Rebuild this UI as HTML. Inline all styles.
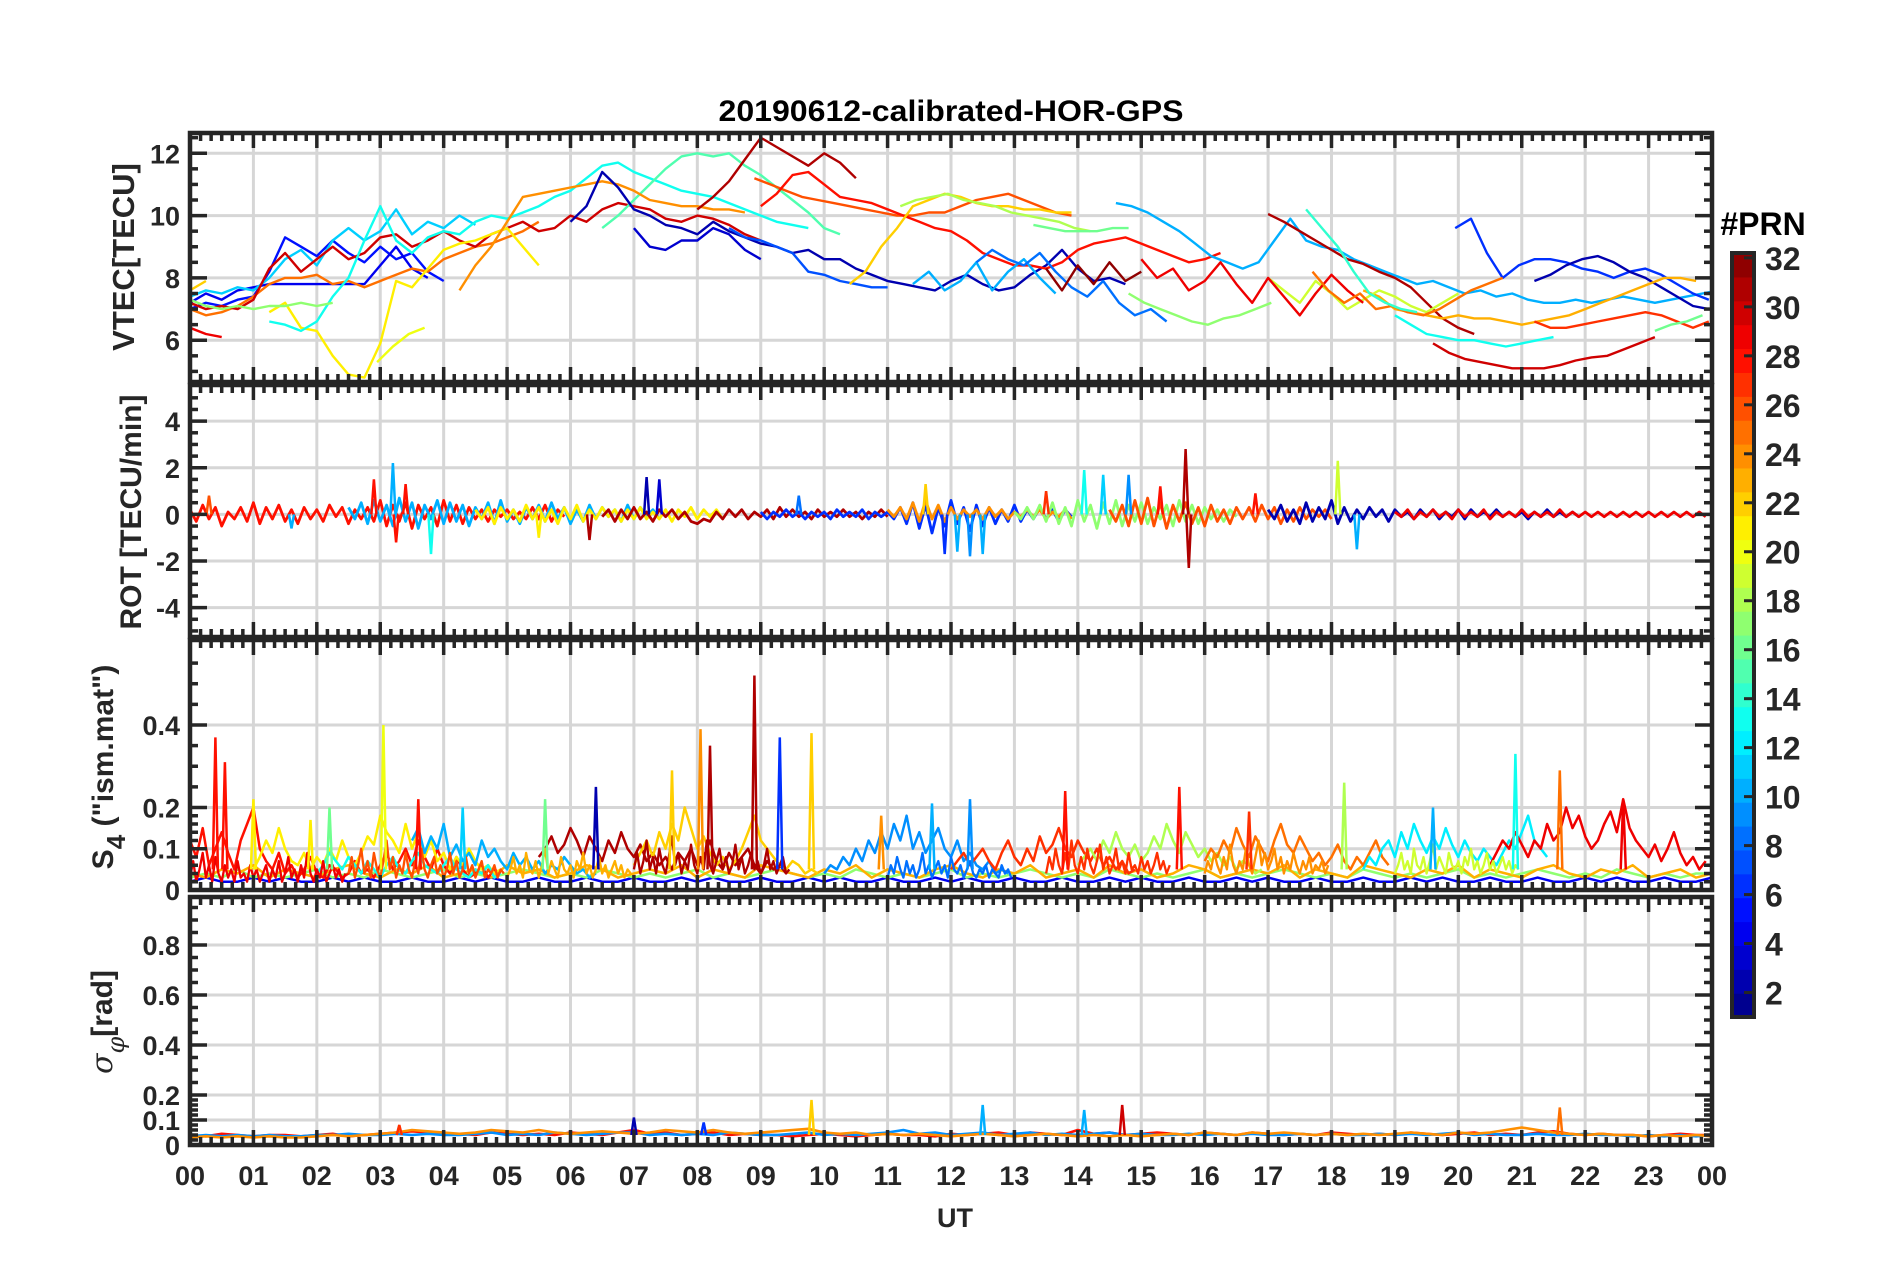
<!DOCTYPE html>
<html><head><meta charset="utf-8">
<style>
html,body{margin:0;padding:0;background:#fff;}
svg{display:block;font-family:"Liberation Sans",Arial,sans-serif;}
.tk{font-size:27px;font-weight:bold;fill:#262626;}
</style></head>
<body>
<svg id="fig" width="1902" height="1272" viewBox="0 0 1902 1272" xmlns="http://www.w3.org/2000/svg">
<rect x="0" y="0" width="1902" height="1272" fill="#fff"/>
<text x="951" y="121" text-anchor="middle" font-size="30" font-weight="bold" fill="#000" textLength="465" lengthAdjust="spacingAndGlyphs">20190612-calibrated-HOR-GPS</text>
<g id="panels"></g>
<text transform="translate(134,257) rotate(-90)" text-anchor="middle" font-size="31" font-weight="bold" fill="#262626">VTEC[TECU]</text>
<text transform="translate(141,512) rotate(-90)" text-anchor="middle" font-size="30" font-weight="bold" fill="#262626">ROT [TECU/min]</text>
<text transform="translate(113,767) rotate(-90)" text-anchor="middle" font-size="30" font-weight="bold" fill="#262626">S<tspan font-size="26" dy="12">4</tspan><tspan dy="-12"> ("ism.mat")</tspan></text>
<text transform="translate(112,1022) rotate(-90)" text-anchor="middle" font-size="30" font-weight="bold" fill="#262626"><tspan font-style="italic" font-weight="normal" font-family="'DejaVu Serif',serif">σ</tspan><tspan font-size="24" dy="12" font-style="italic" font-weight="normal" font-family="'DejaVu Serif',serif">φ</tspan><tspan dy="-12">[rad]</tspan></text>
<text x="955" y="1227" text-anchor="middle" font-size="27" font-weight="bold" fill="#262626">UT</text>
<g id="xlabels"></g>
<g id="colorbar"></g>
<text x="1763" y="235" text-anchor="middle" font-size="32" font-weight="bold" fill="#000">#PRN</text>
</svg>
<script>
// ---------- DATA ----------
const hourLabels = ["00","01","02","03","04","05","06","07","08","09","10","11","12","13","14","15","16","17","18","19","20","21","22","23","00"];
const vtecTicks = [6,8,10,12];
const rotTicks = [-4,-2,0,2,4];
const s4Ticks = [0,0.1,0.2,0.4];
const sigTicks = [0,0.1,0.2,0.4,0.6,0.8];
const prnTicks = [2,4,6,8,10,12,14,16,18,20,22,24,26,28,30,32];

// VTEC tracks: PRN, start hour, step 0.25 h, values (TECU)
const vtecPrn = [5,4,11,25,29,30,21,20,13,15,24,22,17,2,7,3,26,28,31,22,18,16,10,8,10,31,30,6,2,23,27,16,13,19,29,25,14,17,32];
const vtecStart = [0,0,0,0,0,0,1.25,2.95,1.25,6.5,4.25,0,0,6.0,8.5,7.0,8.9,9.0,8.0,10.4,11.2,13.3,11.4,12.4,14.6,17.0,19.6,19.95,21.2,18.5,21.2,23.1,19.0,17.0,15.0,17.7,17.6,14.8,13.5];
const vtecValues = [
 [7.0,7.2,7.1,7.3,7.4,8.2,9.3,9.0,8.7,9.2,8.8,8.5,9.0,8.6,8.8,8.2,7.9],
 [7.2,7.5,7.3,7.6,7.7,7.8,7.8,7.8,7.8,7.8,7.8,7.8,8.4,9.0,8.3,8.0],
 [7.4,7.6,7.5,7.7,7.6,8.0,8.6,8.9,8.4,9.2,9.6,9.2,9.5,10.2,9.4,9.8,9.6,10.0,9.7],
 [7.0,6.8,6.9,7.1,7.4,7.8,8.0,8.0,8.1,7.8,7.9,7.7,7.9,8.1,8.3,8.2,8.6,8.8,9.0,9.1,9.3,9.5,9.8],
 [6.4,6.2,6.1],
 [7.2,7.0,7.1,7.0,7.3,8.3,8.8,8.2,8.6,9.0,8.6,8.8,9.3,9.4,9.0,9.2,9.5,9.2,9.0,9.4,9.6,9.8,9.5,9.6,10.0,9.8,10.2,10.4,10.3,10.2,9.9,9.8,10.0,9.9,9.7,9.4,9.2],
 [6.9,7.2,6.4,6.3,5.5,4.9,4.8,5.9,7.9,7.7,8.3,8.9,9.1,9.2,9.4,9.6,9.0,8.4],
 [5.3,5.8,6.2,6.4],
 [6.6,6.5,6.3,6.6,7.4,8.0,9.2,10.3,9.2,8.8,9.3,9.5,9.4,9.8,10.0,9.9,10.1,10.3,10.6,10.8,11.2,11.6,11.7,11.4,11.2,11.0,10.8,10.7,10.6,10.4,10.2,10.0,9.8,9.7,9.6],
 [9.6,10.0,10.5,11.0,11.5,11.9,12.0,11.9,12.0,11.6,11.3,10.9,10.5,10.1,9.6,9.4],
 [7.6,8.4,9.0,9.8,10.6,10.7,10.8,10.9,11.0,11.1,11.0,10.8,10.5,10.4,10.3,10.3,10.2,10.2,10.1],
 [7.6,7.9],
 [7.3,7.1,7.0,7.1,7.0,7.1,7.1,7.2,7.1,7.2],
 [9.8,10.3,11.4,10.9,10.2,10.0,9.7,9.6,9.4,9.8,9.5,9.3,9.1,9.0,8.8,8.9,8.6,8.6,8.3,8.1,7.9,7.8,7.7,7.6,7.9,8.1,7.8,7.6,7.7,8.1,8.4,8.9,8.3,7.9,8.0,7.8],
 [9.6,9.3,9.2,9.0,8.8,8.2,8.1,7.9,7.8,7.7,7.7],
 [9.6,9.0,8.9,9.2,9.2,9.6,9.4,8.9,8.6],
 [11.2,11.0,10.8,10.6,10.5,10.4,10.3,10.2,10.1,10.0,10.0,10.1,10.1,10.3,10.5,10.6,10.7,10.5,10.3,10.1,10.0],
 [10.3,10.7,11.3,11.4,11.0,10.6,10.5,10.4,10.2,10.0,9.8,9.6,9.5,9.2,8.8,8.6,8.4,8.4,8.3,8.5,8.9,9.1,9.2,9.3,9.1,8.9,8.7,8.5,8.6,8.8],
 [10.2,10.6,11.1,11.8,12.5,12.2,11.9,11.6,12.0,11.7,11.2],
 [7.8,8.2,9.0,9.6,10.3,10.5,10.7,10.6,10.4,10.3,10.3,10.2,10.2,10.1,10.1],
 [10.3,10.5,10.6,10.7,10.5,10.4,10.3,10.1,10.0,9.9,9.8,9.6,9.5],
 [9.7,9.6,9.5,9.5,9.5,9.6,9.6],
 [7.8,8.2,7.6,7.9,8.5,7.6,8.2,8.6,8.0,7.5],
 [8.5,8.9,8.6,8.4,8.8,8.2,7.7,7.4,7.9,7.2,6.8,7.0,6.6],
 [10.4,10.3,10.1,9.8,9.5,9.1,8.7,8.5,8.3,8.5,9.2,9.9,9.2,9.0,8.9,8.6,8.4,8.2,8.0,7.8,7.9,7.7,7.5,7.6,7.4,7.5,7.3,7.2,7.2,7.3,7.2,7.3,7.4,7.3,7.2,7.3,7.4,7.5,7.6],
 [10.05,9.8,9.5,9.2,8.9,8.6,8.45,8.2,8.0,7.7,7.2,6.7,6.4,6.2],
 [5.9,5.6,5.4,5.3,5.2,5.1,5.1,5.1,5.2,5.35,5.45,5.5,5.7,5.9,6.1],
 [9.6,9.9,8.8,8.0,8.4,8.6,8.6,8.5,8.3,8.2,8.0,8.2,8.3,8.1,7.8,7.5,7.3],
 [7.9,8.1,8.4,8.6,8.7,8.5,8.2,8.0,7.7,7.4,7.1,7.0,7.1,7.3],
 [7.6,7.4,7.0,6.9,6.8,6.7,6.8,6.7,6.7,6.6,6.5,6.6,6.7,6.8,7.0,7.2,7.4,7.6,7.8,8.0,8.0,7.9],
 [6.6,6.4,6.4,6.5,6.6,6.7,6.8,6.9,6.8,6.6,6.4,6.6],
 [6.3,6.5,6.6,6.8],
 [6.8,6.5,6.2,6.1,6.0,6.0,5.9,5.8,5.9,6.0,6.1],
 [8.0,7.6,7.2,7.9,7.5,7.0,7.3,7.6,7.4,7.1,6.9,7.2,7.5],
 [8.6,8.0,8.3,7.6,7.9,8.5,7.8,7.2,8.0,7.4,6.8,7.5,8.1,7.6,7.2],
 [8.2,7.6,7.2,7.5,7.0,7.1,6.9,6.8,7.0,7.3,7.6,7.8,8.0],
 [10.2,9.6,9.0,8.2,7.5,7.2,7.0,6.9],
 [7.5,7.2,7.0,6.8,6.6,6.5,6.7,6.8,7.0,7.2],
 [8.3,7.6,8.4,7.8,8.5,7.9,8.2]
];

// ROT background tracks: PRN, start hour, step 0.1 h
const rotPrn = [28,10,21,31,6,24,17,26,2,29];
const rotStart = [0,2.5,4.5,6.5,9.0,11.0,13.0,14.5,17.0,19.0];
const rotValues = [
 [0.2,-0.3,0.4,-0.2,0.3,-0.5,0.1,-0.2,0.3,-0.3,0.5,-0.4,0.3,-0.2,0.4,-0.3,0.2,-0.4,0.3,-0.2,0.2,-0.3,0.4,-0.1,0.3,-0.4,0.2,-0.2,0.3,-0.3,0.6,-0.5,0.4,-0.3,0.5,-0.6,0.4,-0.2,0.3,-0.5,0.6,-0.3,0.4,-0.4,0.3,-0.2,0.2,-0.3,0.2,-0.1,0.2,-0.2,0.1,-0.2,0.3,-0.2,0.4,-0.3,0.2,-0.1],
 [0.3,-0.2,0.5,-0.4,0.6,-0.3,0.4,-0.5,0.7,-0.3,0.5,-0.6,0.4,-0.2,0.6,-0.4,0.5,-0.3,0.4,-0.5,0.3,-0.2,0.5,-0.4,0.6,-0.3,0.2,-0.4,0.3,-0.2,0.4,-0.3,0.5,-0.2,0.3,-0.4,0.2,-0.3,0.4,-0.2,0.3,-0.1,0.2,-0.3,0.4,-0.2,0.3,-0.1,0.2,-0.2],
 [0.2,-0.2,0.3,-0.4,0.3,-0.2,0.2,-0.3,0.4,-0.2,0.3,-0.3,0.2,-0.4,0.3,-0.2,0.4,-0.3,0.2,-0.2,0.3,-0.1,0.2,-0.3,0.2,-0.2,0.3,-0.2,0.1,-0.2,0.2,-0.3,0.2,-0.1,0.3,-0.2,0.2,-0.1,0.2,-0.2],
 [-0.1,0.2,-0.3,0.2,-0.2,0.3,-0.2,0.1,-0.3,0.2,-0.1,0.2,-0.2,0.1,-0.3,-0.4,-0.2,-0.3,0.1,-0.2,0.2,-0.1,0.2,-0.2,0.1,-0.1,0.2,-0.2,0.3,-0.1,0.2,-0.1,0.1,-0.2,0.2,-0.1,0.1,-0.1,0.2,-0.1,0.1,-0.2,0.1,-0.1,0.2,-0.1],
 [0.1,-0.2,0.1,-0.1,0.2,-0.1,0.1,-0.2,0.1,-0.1,0.1,-0.2,0.2,-0.1,0.1,-0.1,0.2,-0.2,0.1,-0.1,0.1,-0.2,0.3,-0.4,0.5,-0.6,0.4,-0.8,0.3,-0.5,0.6,-0.4,0.3,-0.7,0.4,-0.5,0.3,-0.4,0.2,-0.3,0.4,-0.3,0.2,-0.2,0.3,-0.2,0.2,-0.3,0.2,-0.1],
 [0.2,-0.1,0.3,-0.2,0.5,-0.3,0.6,-0.2,0.4,-0.3,0.3,-0.2,0.2,-0.1,0.2,-0.2,0.3,-0.1,0.2,-0.2,0.1,-0.1,0.2,-0.1,0.2,-0.2,0.1,-0.1,0.2,-0.2],
 [0.1,-0.2,0.3,-0.2,0.4,-0.3,0.5,-0.4,0.3,-0.5,0.6,-0.3,0.4,-0.6,0.5,-0.4,0.6,-0.5,0.4,-0.3,0.5,-0.4,0.3,-0.2,0.4,-0.5,0.6,-0.3,0.4,-0.4,0.3,-0.2,0.2,-0.3,0.2,-0.1],
 [0.2,-0.3,0.4,-0.5,0.6,-0.4,0.7,-0.5,0.5,-0.6,0.4,-0.3,0.5,-0.4,0.3,-0.5,0.4,-0.3,0.2,-0.4,0.3,-0.2,0.3,-0.3,0.4,-0.2,0.3,-0.4,0.2,-0.3,0.3,-0.2,0.2,-0.1,0.2,-0.2],
 [0.2,-0.2,0.4,-0.3,0.2,-0.4,0.5,-0.3,0.3,-0.2,0.6,-0.4,0.3,-0.3,0.2,-0.2,0.3,-0.1,0.2,-0.3,0.2,-0.1,0.1,-0.2,0.2,-0.1,0.2,-0.2,0.1,-0.1,0.2,-0.2,0.2,-0.1,0.1,-0.1,0.2,-0.1,0.1,-0.1,0.1,-0.2,0.1,-0.1,0.2,-0.1,0.1,-0.1,0.1,-0.1],
 [0.1,-0.1,0.2,-0.2,0.1,-0.1,0.2,-0.1,0.1,-0.2,0.2,-0.1,0.1,-0.1,0.2,-0.2,0.1,-0.1,0.1,-0.1,0.2,-0.1,0.1,-0.1,0.1,-0.1,0.2,-0.1,0.1,-0.1,0.1,-0.1,0.1,-0.1,0.1,-0.1,0.1,-0.1,0.1,-0.1,0.1,-0.1,0.1,-0.1,0.1,-0.1,0.1,-0.1,0.1,-0.1]
];
// ROT spikes
const rotSpikeT = [0.3,1.6,2.9,3.2,3.25,3.4,3.8,5.5,6.3,7.2,7.4,9.6,11.6,11.9,12.1,12.3,12.5,13.5,14.1,14.4,14.8,15.3,15.7,15.75,18.1,18.4,16.8];
const rotSpikeV = [0.8,-0.6,1.5,2.2,-1.2,1.3,-1.7,-1.0,-1.1,1.6,1.5,0.8,1.3,-1.7,-1.6,-1.8,-1.7,1.0,1.9,1.7,1.7,1.2,2.8,-2.3,2.3,-1.5,0.9];
const rotSpikePrn = [26,10,28,10,28,28,13,21,31,2,3,8,22,6,10,9,10,27,13,11,9,28,31,31,19,10,28];

// S4 background tracks: PRN, start hour, step 0.1 h
const s4Prn = [28,21,13,10,31,22,9,27,18,25,12,29];
const s4Start = [0,1.0,2.0,3.5,5.5,7.0,10.0,12.0,14.0,16.0,18.5,20.5];
const s4Values = [
 [0.12,0.08,0.15,0.06,0.1,0.14,0.09,0.05,0.12,0.16,0.2,0.1,0.07,0.05,0.09,0.04,0.06,0.03,0.05,0.08,0.04,0.03,0.06,0.05,0.03,0.04,0.07,0.04,0.05,0.03,0.06,0.09,0.05,0.07,0.1,0.06,0.12,0.08,0.05,0.1,0.06,0.04,0.08,0.05,0.03,0.04,0.06,0.03,0.05,0.04],
 [0.05,0.08,0.12,0.09,0.15,0.1,0.07,0.06,0.09,0.05,0.08,0.06,0.1,0.07,0.12,0.08,0.06,0.09,0.13,0.11,0.18,0.14,0.12,0.09,0.16,0.1,0.14,0.08,0.12,0.07,0.09,0.05,0.08,0.06,0.1,0.07,0.05,0.06,0.04,0.05],
 [0.04,0.06,0.09,0.07,0.05,0.08,0.06,0.04,0.07,0.05,0.03,0.06,0.08,0.05,0.04,0.07,0.09,0.06,0.05,0.04,0.06,0.08,0.05,0.04,0.03,0.05,0.04,0.06,0.03,0.04],
 [0.12,0.15,0.09,0.13,0.1,0.16,0.08,0.11,0.07,0.09,0.06,0.12,0.08,0.1,0.07,0.05,0.09,0.06,0.08,0.05,0.07,0.04,0.06,0.05,0.08,0.06,0.04,0.05,0.03,0.04],
 [0.08,0.1,0.13,0.09,0.11,0.15,0.12,0.08,0.13,0.1,0.07,0.12,0.09,0.14,0.1,0.08,0.11,0.07,0.09,0.06,0.08,0.05,0.09,0.07,0.1,0.06,0.08,0.12,0.07,0.05,0.09,0.06,0.08,0.1,0.06,0.04,0.07,0.05,0.06,0.04],
 [0.06,0.09,0.12,0.08,0.14,0.1,0.16,0.12,0.2,0.15,0.1,0.13,0.09,0.06,0.08,0.05,0.07,0.1,0.14,0.18,0.12,0.1,0.08,0.06,0.05,0.07,0.06,0.04,0.05,0.04],
 [0.04,0.06,0.05,0.08,0.06,0.1,0.07,0.12,0.09,0.14,0.1,0.16,0.12,0.18,0.1,0.14,0.09,0.12,0.15,0.1,0.08,0.12,0.07,0.09,0.06,0.05,0.07,0.04,0.05,0.04],
 [0.05,0.07,0.09,0.06,0.08,0.1,0.07,0.05,0.09,0.12,0.08,0.06,0.1,0.07,0.13,0.09,0.11,0.15,0.1,0.08,0.12,0.09,0.07,0.1,0.06,0.08,0.05,0.07,0.04,0.05],
 [0.06,0.08,0.1,0.07,0.12,0.09,0.14,0.1,0.08,0.11,0.07,0.09,0.13,0.1,0.16,0.12,0.09,0.14,0.11,0.08,0.1,0.07,0.09,0.06,0.08,0.05,0.07,0.06,0.04,0.05],
 [0.07,0.1,0.08,0.12,0.09,0.15,0.11,0.08,0.13,0.1,0.07,0.12,0.16,0.11,0.09,0.13,0.1,0.07,0.09,0.06,0.08,0.11,0.07,0.05,0.08,0.06,0.09,0.12,0.08,0.06],
 [0.05,0.08,0.06,0.1,0.12,0.08,0.14,0.1,0.16,0.12,0.09,0.13,0.1,0.15,0.11,0.08,0.12,0.09,0.07,0.1,0.08,0.06,0.09,0.12,0.1,0.14,0.18,0.12,0.1,0.08],
 [0.06,0.09,0.12,0.1,0.14,0.11,0.08,0.12,0.1,0.16,0.12,0.14,0.2,0.15,0.18,0.13,0.1,0.12,0.16,0.19,0.14,0.22,0.15,0.12,0.1,0.08,0.11,0.07,0.1,0.14,0.09,0.06,0.08,0.05,0.07]
];
// S4 dense tracks: PRN, start hour, step 0.05 h
const s4DensePrn = [29,26,23,31,8,27,24,19];
const s4DenseStart = [0,2.5,5.0,7.0,11.0,13.5,16.0,19.0];
const s4DenseValues = [
 [0.03,0.07,0.02,0.05,0.09,0.03,0.06,0.02,0.08,0.04,0.02,0.06,0.03,0.05,0.02,0.07,0.03,0.04,0.02,0.06,0.03,0.05,0.02,0.04,0.06,0.02,0.05,0.03,0.07,0.02,0.04,0.08,0.03,0.05,0.02,0.06,0.03,0.09,0.04,0.02,0.05,0.03,0.07,0.02,0.04,0.06,0.03,0.05,0.02,0.04],
 [0.04,0.08,0.03,0.06,0.1,0.04,0.07,0.03,0.09,0.05,0.03,0.07,0.12,0.05,0.08,0.03,0.06,0.04,0.09,0.05,0.03,0.07,0.04,0.1,0.05,0.03,0.06,0.08,0.04,0.06,0.03,0.05,0.09,0.04,0.07,0.03,0.05,0.08,0.04,0.06,0.03,0.05,0.07,0.03,0.05,0.04,0.06,0.03,0.05,0.04],
 [0.03,0.05,0.08,0.04,0.06,0.03,0.09,0.05,0.04,0.07,0.03,0.06,0.1,0.04,0.07,0.05,0.03,0.08,0.05,0.04,0.06,0.03,0.07,0.05,0.09,0.04,0.06,0.03,0.05,0.08,0.04,0.06,0.03,0.05,0.07,0.04,0.06,0.03,0.05,0.04],
 [0.05,0.09,0.04,0.07,0.12,0.05,0.08,0.04,0.1,0.06,0.04,0.08,0.13,0.06,0.09,0.04,0.07,0.05,0.11,0.06,0.04,0.08,0.05,0.12,0.06,0.04,0.07,0.1,0.05,0.08,0.04,0.06,0.11,0.05,0.08,0.04,0.06,0.09,0.05,0.07,0.04,0.06,0.1,0.05,0.07,0.04,0.06,0.08,0.04,0.05],
 [0.03,0.06,0.04,0.08,0.05,0.03,0.07,0.04,0.06,0.03,0.05,0.09,0.04,0.06,0.03,0.05,0.07,0.04,0.06,0.03,0.08,0.05,0.04,0.06,0.03,0.05,0.07,0.04,0.03,0.05,0.04,0.06,0.03,0.05,0.04,0.03,0.06,0.04,0.05,0.03],
 [0.04,0.08,0.05,0.1,0.06,0.04,0.09,0.05,0.12,0.06,0.04,0.08,0.05,0.1,0.06,0.04,0.07,0.11,0.05,0.08,0.04,0.06,0.1,0.05,0.07,0.04,0.09,0.05,0.06,0.04,0.08,0.05,0.07,0.04,0.06,0.09,0.05,0.07,0.04,0.06],
 [0.04,0.07,0.05,0.09,0.06,0.04,0.08,0.05,0.11,0.06,0.04,0.07,0.05,0.1,0.06,0.04,0.08,0.12,0.06,0.09,0.05,0.07,0.1,0.05,0.08,0.04,0.07,0.05,0.09,0.06,0.04,0.07,0.05,0.08,0.04,0.06,0.05,0.07,0.04,0.06],
 [0.04,0.06,0.09,0.05,0.07,0.04,0.1,0.06,0.05,0.08,0.04,0.07,0.11,0.05,0.08,0.06,0.04,0.09,0.06,0.05,0.07,0.04,0.08,0.06,0.1,0.05,0.07,0.04,0.06,0.09,0.05,0.07,0.04,0.06,0.08,0.05,0.07,0.04,0.06,0.05]
];
// S4 floor tracks (low-level values), step 0.25 h from 0
const s4FloorPrn = [4,17,23];
const s4FloorValues = [
 [0.02,0.03,0.02,0.02,0.03,0.02,0.03,0.02,0.02,0.03,0.02,0.03,0.02,0.02,0.03,0.02,0.02,0.03,0.02,0.03,0.02,0.02,0.03,0.02,0.02,0.03,0.02,0.02,0.03,0.02,0.02,0.03,0.02,0.03,0.02,0.02,0.03,0.02,0.02,0.03,0.02,0.03,0.02,0.02,0.03,0.02,0.02,0.03,0.02,0.03,0.02,0.02,0.03,0.02,0.02,0.03,0.02,0.02,0.03,0.02,0.03,0.02,0.02,0.03,0.02,0.02,0.03,0.02,0.03,0.02,0.02,0.03,0.02,0.02,0.03,0.02,0.02,0.03,0.02,0.03,0.02,0.02,0.03,0.02,0.02,0.03,0.02,0.02,0.03,0.02,0.03,0.02,0.02,0.03,0.02,0.02,0.03],
 [0.03,0.04,0.03,0.05,0.03,0.04,0.03,0.04,0.05,0.03,0.04,0.03,0.05,0.04,0.03,0.04,0.05,0.03,0.04,0.03,0.04,0.05,0.04,0.03,0.04,0.03,0.05,0.04,0.03,0.04,0.03,0.04,0.05,0.03,0.04,0.03,0.04,0.05,0.04,0.03,0.04,0.03,0.05,0.04,0.03,0.04,0.03,0.04,0.05,0.03,0.04,0.03,0.04,0.05,0.04,0.03,0.04,0.03,0.05,0.04,0.03,0.04,0.03,0.04,0.05,0.03,0.04,0.03,0.04,0.05,0.04,0.03,0.04,0.03,0.05,0.04,0.03,0.04,0.03,0.04,0.05,0.03,0.04,0.03,0.04,0.05,0.04,0.03,0.04,0.03,0.05,0.04,0.03,0.04,0.03,0.04,0.04],
 [0.04,0.03,0.05,0.04,0.06,0.03,0.05,0.04,0.03,0.05,0.06,0.04,0.03,0.05,0.04,0.06,0.03,0.04,0.05,0.03,0.06,0.04,0.05,0.03,0.04,0.06,0.05,0.03,0.04,0.05,0.04,0.06,0.03,0.05,0.04,0.03,0.06,0.05,0.04,0.03,0.05,0.04,0.06,0.03,0.05,0.04,0.03,0.05,0.06,0.04,0.03,0.05,0.04,0.06,0.03,0.04,0.05,0.03,0.06,0.04,0.05,0.03,0.04,0.06,0.05,0.03,0.04,0.05,0.04,0.06,0.03,0.05,0.04,0.03,0.06,0.05,0.04,0.03,0.05,0.04,0.06,0.03,0.05,0.04,0.03,0.05,0.06,0.04,0.03,0.05,0.04,0.06,0.03,0.04,0.05,0.03,0.04]
];
// S4 spikes
const s4SpikeT = [0.4,0.55,1.0,2.2,3.05,3.6,5.6,6.4,7.6,8.05,8.2,8.9,9.3,9.8,11.7,12.3,13.8,15.6,16.7,18.2,20.9,21.6,22.6,1.9,4.3,10.9,19.6];
const s4SpikeV = [0.37,0.31,0.22,0.2,0.4,0.22,0.22,0.25,0.29,0.39,0.35,0.52,0.37,0.38,0.21,0.22,0.24,0.25,0.19,0.26,0.33,0.29,0.22,0.17,0.2,0.18,0.2];
const s4SpikePrn = [28,28,21,16,20,28,16,2,22,24,31,31,6,22,10,9,28,28,27,18,13,25,29,21,11,24,10];

// sigma-phi tracks: step 0.25 h from 0
const sigPrn = [28,9,24];
const sigValues = [
 [0.04,0.035,0.045,0.04,0.035,0.04,0.04,0.035,0.04,0.045,0.035,0.04,0.045,0.05,0.055,0.05,0.04,0.045,0.04,0.05,0.045,0.04,0.045,0.04,0.05,0.045,0.04,0.05,0.06,0.045,0.05,0.04,0.045,0.05,0.04,0.045,0.04,0.04,0.035,0.04,0.045,0.04,0.035,0.04,0.045,0.04,0.04,0.035,0.045,0.04,0.045,0.05,0.04,0.05,0.045,0.04,0.06,0.045,0.05,0.04,0.045,0.05,0.045,0.04,0.05,0.045,0.04,0.05,0.045,0.04,0.045,0.04,0.05,0.045,0.04,0.045,0.04,0.05,0.045,0.04,0.045,0.05,0.04,0.045,0.04,0.05,0.055,0.045,0.04,0.045,0.04,0.04,0.035,0.04,0.045,0.04,0.04],
 [0.035,0.04,0.035,0.04,0.035,0.04,0.035,0.035,0.04,0.04,0.045,0.04,0.04,0.045,0.04,0.045,0.04,0.04,0.045,0.05,0.04,0.045,0.04,0.05,0.045,0.04,0.045,0.05,0.05,0.04,0.045,0.04,0.045,0.04,0.05,0.045,0.04,0.04,0.045,0.05,0.04,0.045,0.04,0.045,0.05,0.06,0.045,0.05,0.04,0.045,0.05,0.04,0.045,0.05,0.04,0.045,0.04,0.045,0.05,0.04,0.045,0.04,0.04,0.045,0.04,0.045,0.04,0.045,0.04,0.04,0.045,0.04,0.045,0.04,0.04,0.045,0.04,0.045,0.04,0.045,0.05,0.04,0.045,0.04,0.04,0.045,0.04,0.04,0.045,0.04,0.04,0.035,0.04,0.035,0.04,0.035,0.04],
 [0.03,0.035,0.03,0.035,0.03,0.035,0.03,0.03,0.035,0.04,0.035,0.04,0.045,0.05,0.06,0.055,0.05,0.045,0.05,0.06,0.055,0.05,0.06,0.05,0.045,0.05,0.055,0.05,0.045,0.05,0.06,0.055,0.05,0.06,0.05,0.045,0.05,0.055,0.06,0.065,0.05,0.045,0.05,0.04,0.045,0.04,0.045,0.04,0.035,0.04,0.045,0.04,0.035,0.04,0.045,0.04,0.035,0.04,0.035,0.04,0.035,0.04,0.045,0.04,0.05,0.045,0.04,0.05,0.045,0.05,0.045,0.04,0.045,0.04,0.045,0.04,0.045,0.05,0.045,0.04,0.05,0.045,0.05,0.06,0.07,0.06,0.05,0.045,0.04,0.045,0.04,0.04,0.035,0.04,0.035,0.04,0.035]
];
const sigSpikeT = [7.0,8.1,9.8,12.5,14.1,14.7,21.6,3.3];
const sigSpikeV = [0.11,0.09,0.18,0.16,0.14,0.16,0.15,0.08];
const sigSpikePrn = [2,6,22,10,10,30,25,27];

// ---------- RENDERING ----------
const NS = "http://www.w3.org/2000/svg";
const X0 = 190, X1 = 1712;
const xs = h => X0 + (X1 - X0) * h / 24;
function jet(p){const x=(p-0.5)/32;const c=v=>Math.round(255*Math.max(0,Math.min(1,v)));return `rgb(${c(1.5-Math.abs(4*x-3))},${c(1.5-Math.abs(4*x-2))},${c(1.5-Math.abs(4*x-1))})`;}
function mk(tag, attrs, parent){const e=document.createElementNS(NS,tag);for(const k in attrs)e.setAttribute(k,attrs[k]);parent.appendChild(e);return e;}
const AX = "#262626";
const panelsG = document.getElementById('panels');

const panels = [
 {name:'vtec', top:133, bot:382, vmin:4.66, vmax:12.65, ticks:vtecTicks, minor:[5,5.5,6.5,7,7.5,8.5,9,9.5,10.5,11,11.5,12.5], fmt:v=>String(v)},
 {name:'rot', top:385, bot:637, vmin:-5.26, vmax:5.55, ticks:rotTicks, minor:[-5,-4.5,-3.5,-3,-2.5,-1.5,-1,-0.5,0.5,1,1.5,2.5,3,3.5,4.5,5,5.5], fmt:v=>String(v)},
 {name:'s4', top:640, bot:890, vmin:0, vmax:0.606, ticks:s4Ticks, minor:[0.02,0.04,0.06,0.08,0.12,0.14,0.16,0.18,0.25,0.3,0.35,0.45,0.5,0.55], fmt:v=>String(v)},
 {name:'sigma', top:897, bot:1145, vmin:0, vmax:0.992, ticks:sigTicks, minor:[0.02,0.04,0.06,0.08,0.12,0.14,0.16,0.18,0.25,0.3,0.35,0.45,0.5,0.55,0.65,0.7,0.75,0.85,0.9,0.95], fmt:v=>String(v)}
];
panels.forEach(p=>{p.ys=v=>p.bot-(v-p.vmin)*(p.bot-p.top)/(p.vmax-p.vmin);});

function drawLine(p, g, prn, t0, dt, vals, w, name){
  let d='';
  vals.forEach((v,i)=>{d+=(i?'L':'M')+xs(t0+i*dt).toFixed(1)+','+p.ys(v).toFixed(1);});
  const el=mk('path',{d:d,fill:'none',stroke:jet(prn),'stroke-width':w,'stroke-linejoin':'round'},g);
  
  
}
function drawSpike(p, g, prn, t, v, base, name){
  const xa=xs(t-0.04), xb=xs(t), xc=xs(t+0.04);
  const el=mk('path',{d:`M${xa.toFixed(1)},${p.ys(base).toFixed(1)}L${xb.toFixed(1)},${p.ys(v).toFixed(1)}L${xc.toFixed(1)},${p.ys(base).toFixed(1)}`,fill:'none',stroke:jet(prn),'stroke-width':2.5},g);
  
  
}

panels.forEach((p,pi)=>{
  const g=mk('g',{},panelsG);
  
  
  const clipId='clip'+pi;
  const cp=mk('clipPath',{id:clipId},g);
  mk('rect',{x:X0,y:p.top,width:X1-X0,height:p.bot-p.top},cp);
  const grid=mk('g',{stroke:'#d6d6d6','stroke-width':3},g);
  
  
  for(let h=1;h<24;h++) mk('line',{x1:xs(h),x2:xs(h),y1:p.top,y2:p.bot},grid);
  p.ticks.forEach(v=>{if(v!==0||p.name==='rot') mk('line',{x1:X0,x2:X1,y1:p.ys(v),y2:p.ys(v)},grid);});
  const dg=mk('g',{'clip-path':`url(#${clipId})`},g);
  
  
  if(p.name==='vtec'){
    vtecValues.forEach((vals,i)=>drawLine(p,dg,vtecPrn[i],vtecStart[i],0.25,vals,2.4,'vtec-prn-'+vtecPrn[i]));
  } else if(p.name==='rot'){
    rotValues.forEach((vals,i)=>drawLine(p,dg,rotPrn[i],rotStart[i],0.1,vals,2.8,'rot-prn-'+rotPrn[i]));
    rotSpikeT.forEach((t,i)=>drawSpike(p,dg,rotSpikePrn[i],t,rotSpikeV[i],0,'rot-spike'));
  } else if(p.name==='s4'){
    s4FloorValues.forEach((vals,i)=>drawLine(p,dg,s4FloorPrn[i],0,0.25,vals,2.5,'s4-floor-prn-'+s4FloorPrn[i]));
    s4Values.forEach((vals,i)=>drawLine(p,dg,s4Prn[i],s4Start[i],0.1,vals,2.5,'s4-prn-'+s4Prn[i]));
    s4DenseValues.forEach((vals,i)=>drawLine(p,dg,s4DensePrn[i],s4DenseStart[i],0.05,vals,2.3,'s4-dense-prn-'+s4DensePrn[i]));
    s4SpikeT.forEach((t,i)=>drawSpike(p,dg,s4SpikePrn[i],t,s4SpikeV[i],0.05,'s4-spike'));
  } else {
    sigValues.forEach((vals,i)=>drawLine(p,dg,sigPrn[i],0,0.25,vals,2.6,'sigma-prn-'+sigPrn[i]));
    sigSpikeT.forEach((t,i)=>drawSpike(p,dg,sigSpikePrn[i],t,sigSpikeV[i],0.04,'sigma-spike'));
  }
  const tg=mk('g',{stroke:AX,'stroke-width':3.5},g);
  for(let m=0;m<=144;m++){
    const h=m/6, maj=(m%6===0), L=maj?15:8, x=xs(h);
    mk('line',{x1:x,x2:x,y1:p.top,y2:p.top+L},tg);
    mk('line',{x1:x,x2:x,y1:p.bot,y2:p.bot-L},tg);
  }
  p.ticks.forEach(v=>{const y=p.ys(v);mk('line',{x1:X0,x2:X0+17,y1:y,y2:y},tg);mk('line',{x1:X1,x2:X1-17,y1:y,y2:y},tg);});
  p.minor.forEach(v=>{const y=p.ys(v);if(y>p.top+2&&y<p.bot-2){mk('line',{x1:X0,x2:X0+8,y1:y,y2:y},tg);mk('line',{x1:X1,x2:X1-8,y1:y,y2:y},tg);}});
  const box=mk('rect',{x:X0,y:p.top,width:X1-X0,height:p.bot-p.top,fill:'none',stroke:AX,'stroke-width':4.5},g);
  
  
  p.ticks.forEach(v=>{
    const t=mk('text',{x:180,y:(p.ys(v)+10).toFixed(1),'text-anchor':'end',class:'tk'},g);
    t.textContent=p.fmt(v);
    
    
  });
});

const xl=document.getElementById('xlabels');
hourLabels.forEach((s,i)=>{
  const t=mk('text',{x:xs(i).toFixed(1),y:1185,'text-anchor':'middle',class:'tk'},xl);
  t.textContent=s;
  
  
});

const cb=document.getElementById('colorbar');


const CB_L=1732, CB_R=1754, CB_T=253, CB_B=1017, CMIN=1, CMAX=32.2;
const cy=v=>CB_B-(v-CMIN)*(CB_B-CB_T)/(CMAX-CMIN);
for(let k=1;k<=32;k++){
  const y0=CB_B-(k-1)*(CB_B-CB_T)/32, y1=CB_B-k*(CB_B-CB_T)/32;
  const r=mk('rect',{x:CB_L,y:y1,width:CB_R-CB_L,height:(y0-y1)+0.6,fill:jet(k)},cb);
  
  
}
mk('rect',{x:CB_L,y:CB_T,width:CB_R-CB_L,height:CB_B-CB_T,fill:'none',stroke:AX,'stroke-width':4},cb);
prnTicks.forEach(v=>{
  const y=cy(v);
  mk('line',{x1:CB_R,x2:CB_R-10,y1:y,y2:y,stroke:AX,'stroke-width':3},cb);
  const t=mk('text',{x:1765,y:(y+12).toFixed(1),'font-size':32,'font-weight':'bold',fill:AX},cb);
  t.textContent=String(v);
  
  
});
</script>
</body></html>
